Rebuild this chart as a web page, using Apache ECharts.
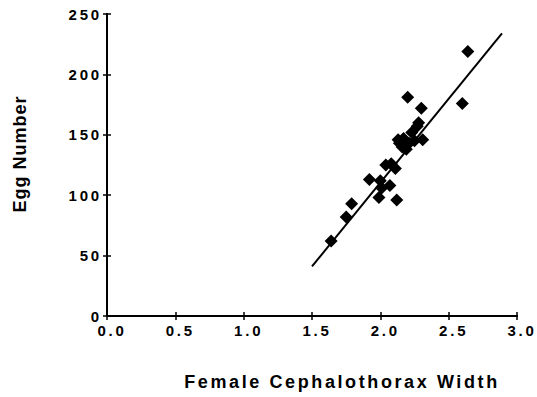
<!DOCTYPE html>
<html><head><meta charset="utf-8">
<script src="https://cdn.jsdelivr.net/npm/echarts@6/dist/echarts.min.js"></script>
<style>html,body{margin:0;padding:0;background:#fff}#c{width:537px;height:397px}</style>
</head><body><div id="c"></div>
<script>
const widthX = [1.64, 1.75, 1.79, 1.92, 1.99, 2.00, 2.01, 2.04, 2.07, 2.08, 2.11, 2.12, 2.13, 2.14, 2.16, 2.17, 2.19, 2.20, 2.21, 2.23, 2.25, 2.27, 2.28, 2.30, 2.31, 2.60, 2.64];
const eggY   = [62, 82, 93, 113, 98, 112, 106, 125, 108, 126, 122, 96, 146, 143, 140, 147, 138, 181, 143, 152, 145, 157, 160, 172, 146, 176, 219];
const fitX = [1.5, 2.89];
const fitY = [41, 234];
const xTitle = 'Female Cephalothorax Width';
const yTitle = 'Egg Number';

const font = 'Liberation Sans, Arial, Helvetica, sans-serif';
const chart = echarts.init(document.getElementById('c'), null, {renderer:'svg'});
const axisCommon = {
  axisLine:{show:true,onZero:false,lineStyle:{color:'#000',width:2}},
  splitLine:{show:false}
};
chart.setOption({
  animation:false,
  grid:{left:107,right:20,top:14,bottom:81},
  xAxis:[
    Object.assign({type:'value',min:0,max:3,interval:0.5,position:'bottom',
      axisTick:{show:true,length:4,lineStyle:{color:'#000',width:1.5}},
      axisLabel:{color:'#000',fontFamily:font,fontWeight:'bold',fontSize:15,margin:7,
        padding:[0,0,0,10],formatter:v=>v.toFixed(1)},
      name:xTitle,nameLocation:'middle',nameGap:57,
      nameTextStyle:{color:'#000',fontFamily:font,fontWeight:'bold',fontSize:18,padding:[0,0,0,60]}
    },axisCommon),
    Object.assign({type:'value',min:0,max:3,interval:0.5,position:'bottom',
      axisTick:{show:true,inside:true,length:4,lineStyle:{color:'#000',width:1.5}},
      axisLabel:{show:false}},axisCommon)
  ],
  yAxis:[
    Object.assign({type:'value',min:0,max:250,interval:50,position:'left',
      axisTick:{show:true,length:4,lineStyle:{color:'#000',width:1.5}},
      axisLabel:{color:'#000',fontFamily:font,fontWeight:'bold',fontSize:15,margin:5},
      name:yTitle,nameLocation:'middle',nameGap:78,nameRotate:90,
      nameTextStyle:{color:'#000',fontFamily:font,fontWeight:'bold',fontSize:18,padding:[0,0,0,22]}
    },axisCommon),
    Object.assign({type:'value',min:0,max:250,interval:50,position:'left',
      axisTick:{show:true,inside:true,length:4,lineStyle:{color:'#000',width:1.5}},
      axisLabel:{show:false}},axisCommon)
  ],
  series:[
    {type:'line',data:fitX.map((x,i)=>[x,fitY[i]]),symbol:'none',
     lineStyle:{color:'#000',width:2},z:2},
    {type:'scatter',data:widthX.map((x,i)=>[x,eggY[i]]),symbol:'diamond',symbolSize:13,
     itemStyle:{color:'#000',opacity:1},z:3}
  ]
});
document.querySelectorAll('#c svg text').forEach(t=>{
  const s = t.textContent;
  if (s === xTitle) t.style.letterSpacing = '2.6px';
  else if (s === yTitle) t.style.letterSpacing = '1px';
  else t.style.letterSpacing = '2.8px';
});
</script></body></html>
